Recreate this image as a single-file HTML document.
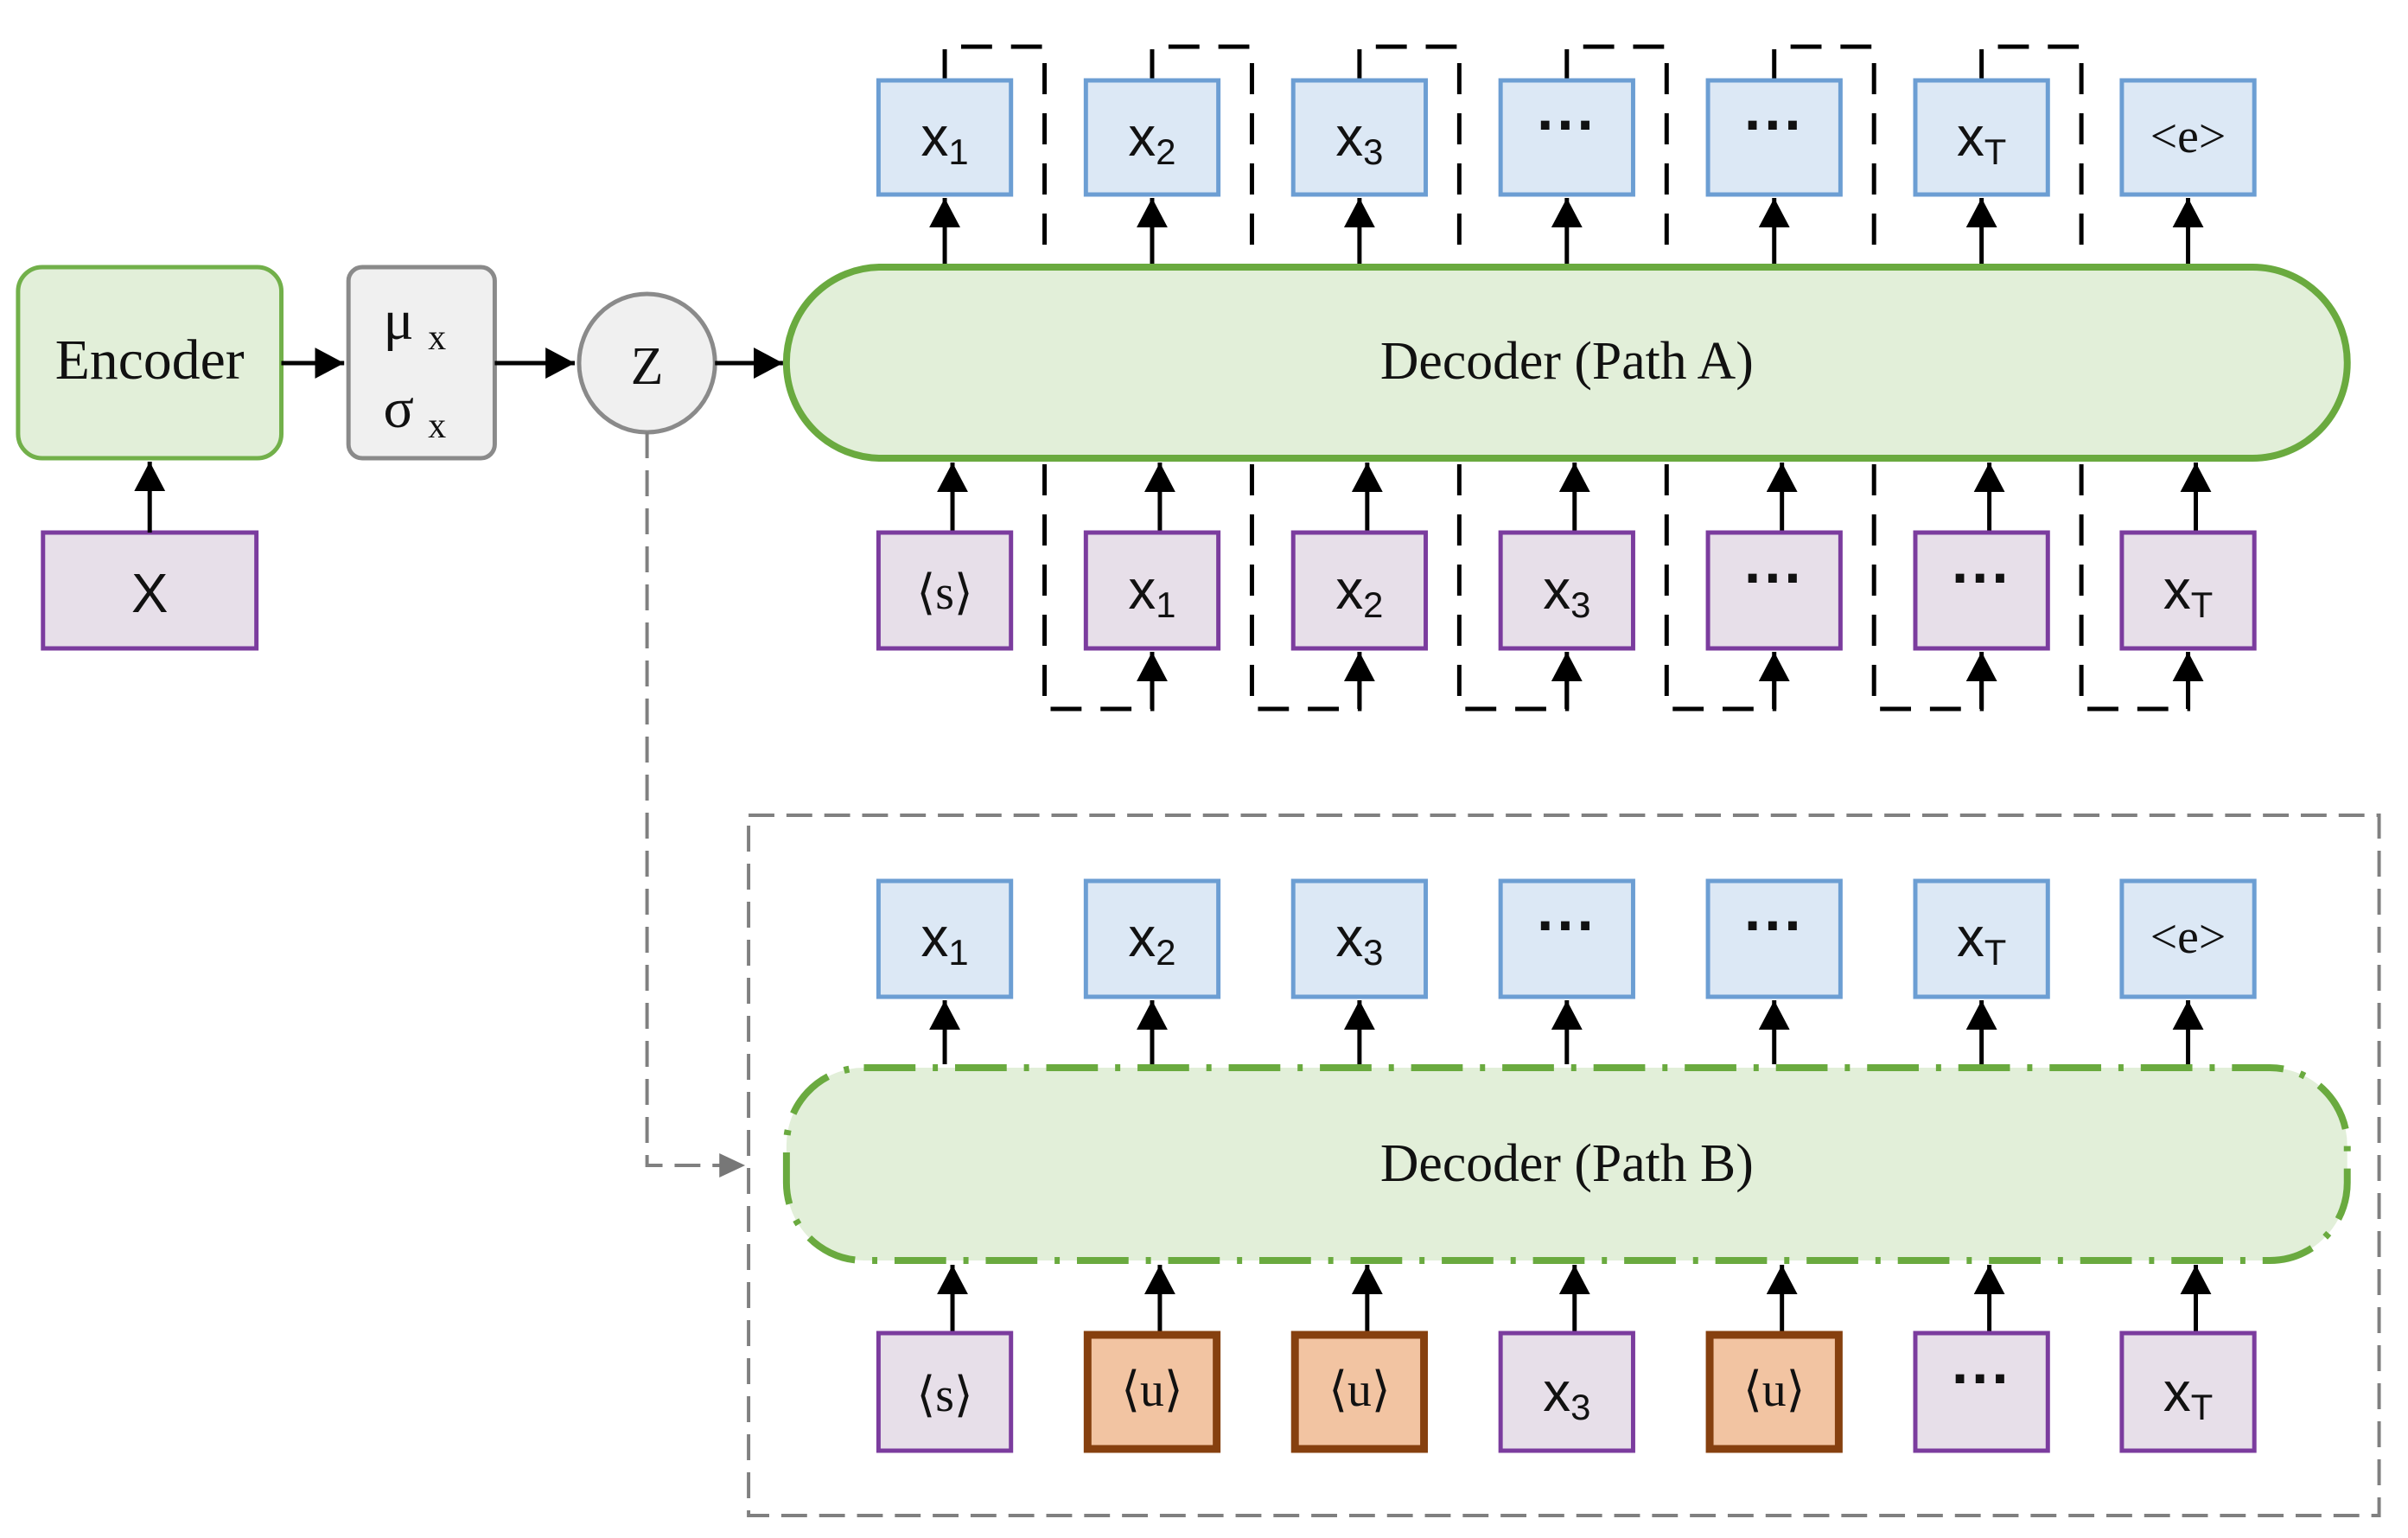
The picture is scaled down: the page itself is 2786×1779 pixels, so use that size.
<!DOCTYPE html>
<html><head><meta charset="utf-8"><style>
html,body{margin:0;padding:0;background:#fff;}
svg{display:block;}
.tok{font-family:"Liberation Sans",sans-serif;font-size:64px;fill:#111;}
.sub{font-size:42px;}
.ser{font-family:"Liberation Serif",serif;fill:#111;}
</style></head><body>
<svg width="2786" height="1779" viewBox="0 0 2786 1779" xmlns="http://www.w3.org/2000/svg">
<defs>
<marker id="ah" markerUnits="userSpaceOnUse" markerWidth="44" markerHeight="44" refX="34" refY="18" orient="auto">
<path d="M0,0 L34,18 L0,36 Z" fill="#000"/></marker>
<marker id="ahg" markerUnits="userSpaceOnUse" markerWidth="40" markerHeight="40" refX="30" refY="14" orient="auto">
<path d="M0,0 L30,14 L0,28 Z" fill="#777"/></marker>
</defs>
<g transform="scale(0.9955,1)">
<rect x="870" y="943" width="1895" height="810" fill="none" stroke="#808080" stroke-width="4" stroke-dasharray="30,14"/>

<rect x="21" y="309" width="306" height="221" rx="28" fill="#e2efd9" stroke="#72b04a" stroke-width="5"/>
<text x="174" y="438" class="ser" font-size="66" text-anchor="middle">Encoder</text>
<rect x="50" y="616" width="248" height="134" fill="#e7dfe9" stroke="#7b3c9e" stroke-width="5"/>
<text x="174" y="708" class="tok" text-anchor="middle">X</text>
<line x1="174" y1="616" x2="174" y2="534" stroke="#000" stroke-width="5" marker-end="url(#ah)"/>

<rect x="405" y="309" width="170" height="221" rx="16" fill="#f0f0f0" stroke="#8a8a8a" stroke-width="5"/>
<text x="482" y="392" class="ser" font-size="66" text-anchor="middle">μ <tspan font-size="42" dy="12">x</tspan></text>
<text x="482" y="494" class="ser" font-size="66" text-anchor="middle">σ <tspan font-size="42" dy="12">x</tspan></text>
<line x1="327" y1="420" x2="400" y2="420" stroke="#000" stroke-width="5" marker-end="url(#ah)"/>
<line x1="575" y1="420" x2="668" y2="420" stroke="#000" stroke-width="5" marker-end="url(#ah)"/>

<ellipse cx="752" cy="420" rx="79" ry="80" fill="#f0f0f0" stroke="#8a8a8a" stroke-width="5"/>
<text x="752" y="444" class="ser" font-size="62" text-anchor="middle">Z</text>
<line x1="831" y1="420" x2="910" y2="420" stroke="#000" stroke-width="5" marker-end="url(#ah)"/>
<path d="M752,500 L752,1348 L866,1348" fill="none" stroke="#808080" stroke-width="4" stroke-dasharray="30,14" marker-end="url(#ahg)"/>

<g fill="none" stroke="#000" stroke-width="5" stroke-dasharray="36,22">
<path d="M1098,93 L1098,54 L1214,54 L1214,820 L1339,820 L1339,760"/>
<path d="M1339,93 L1339,54 L1455,54 L1455,820 L1580,820 L1580,760"/>
<path d="M1580,93 L1580,54 L1696,54 L1696,820 L1821,820 L1821,760"/>
<path d="M1821,93 L1821,54 L1937,54 L1937,820 L2062,820 L2062,760"/>
<path d="M2062,93 L2062,54 L2178,54 L2178,820 L2303,820 L2303,760"/>
<path d="M2303,93 L2303,54 L2419,54 L2419,820 L2543,820 L2543,760"/>
</g>
<g stroke="#000" stroke-width="5">
<line x1="1339" y1="820" x2="1339" y2="754" marker-end="url(#ah)"/>
<line x1="1580" y1="820" x2="1580" y2="754" marker-end="url(#ah)"/>
<line x1="1821" y1="820" x2="1821" y2="754" marker-end="url(#ah)"/>
<line x1="2062" y1="820" x2="2062" y2="754" marker-end="url(#ah)"/>
<line x1="2303" y1="820" x2="2303" y2="754" marker-end="url(#ah)"/>
<line x1="2543" y1="820" x2="2543" y2="754" marker-end="url(#ah)"/>
</g>

<rect x="914" y="309" width="1814" height="221" rx="110" fill="#e2efd9" stroke="#6aaa3f" stroke-width="8"/>
<text x="1821" y="438" class="ser" font-size="62" text-anchor="middle">Decoder (Path A)</text>

<rect x="914" y="1235" width="1814" height="223" rx="90" fill="#e2efd9" stroke="#6aaa3f" stroke-width="8" stroke-dasharray="60,20,6,20"/>
<text x="1821" y="1366" class="ser" font-size="62" text-anchor="middle">Decoder (Path B)</text>

<g stroke="#000" stroke-width="5">
<line x1="1098" y1="305" x2="1098" y2="229" marker-end="url(#ah)"/>
<line x1="1339" y1="305" x2="1339" y2="229" marker-end="url(#ah)"/>
<line x1="1580" y1="305" x2="1580" y2="229" marker-end="url(#ah)"/>
<line x1="1821" y1="305" x2="1821" y2="229" marker-end="url(#ah)"/>
<line x1="2062" y1="305" x2="2062" y2="229" marker-end="url(#ah)"/>
<line x1="2303" y1="305" x2="2303" y2="229" marker-end="url(#ah)"/>
<line x1="2543" y1="305" x2="2543" y2="229" marker-end="url(#ah)"/>
<line x1="1107" y1="616" x2="1107" y2="535" marker-end="url(#ah)"/>
<line x1="1348" y1="616" x2="1348" y2="535" marker-end="url(#ah)"/>
<line x1="1589" y1="616" x2="1589" y2="535" marker-end="url(#ah)"/>
<line x1="1830" y1="616" x2="1830" y2="535" marker-end="url(#ah)"/>
<line x1="2071" y1="616" x2="2071" y2="535" marker-end="url(#ah)"/>
<line x1="2312" y1="616" x2="2312" y2="535" marker-end="url(#ah)"/>
<line x1="2552" y1="616" x2="2552" y2="535" marker-end="url(#ah)"/>
<line x1="1098" y1="1231" x2="1098" y2="1157" marker-end="url(#ah)"/>
<line x1="1339" y1="1231" x2="1339" y2="1157" marker-end="url(#ah)"/>
<line x1="1580" y1="1231" x2="1580" y2="1157" marker-end="url(#ah)"/>
<line x1="1821" y1="1231" x2="1821" y2="1157" marker-end="url(#ah)"/>
<line x1="2062" y1="1231" x2="2062" y2="1157" marker-end="url(#ah)"/>
<line x1="2303" y1="1231" x2="2303" y2="1157" marker-end="url(#ah)"/>
<line x1="2543" y1="1231" x2="2543" y2="1157" marker-end="url(#ah)"/>
<line x1="1107" y1="1542" x2="1107" y2="1463" marker-end="url(#ah)"/>
<line x1="1348" y1="1542" x2="1348" y2="1463" marker-end="url(#ah)"/>
<line x1="1589" y1="1542" x2="1589" y2="1463" marker-end="url(#ah)"/>
<line x1="1830" y1="1542" x2="1830" y2="1463" marker-end="url(#ah)"/>
<line x1="2071" y1="1542" x2="2071" y2="1463" marker-end="url(#ah)"/>
<line x1="2312" y1="1542" x2="2312" y2="1463" marker-end="url(#ah)"/>
<line x1="2552" y1="1542" x2="2552" y2="1463" marker-end="url(#ah)"/>
</g>

<g fill="#dce8f5" stroke="#6c9ed3" stroke-width="5">
<rect x="1021" y="93" width="154" height="132"/><rect x="1262" y="93" width="154" height="132"/>
<rect x="1503" y="93" width="154" height="132"/><rect x="1744" y="93" width="154" height="132"/>
<rect x="1985" y="93" width="154" height="132"/><rect x="2226" y="93" width="154" height="132"/>
<rect x="2466" y="93" width="154" height="132"/>
<rect x="1021" y="1019" width="154" height="134"/><rect x="1262" y="1019" width="154" height="134"/>
<rect x="1503" y="1019" width="154" height="134"/><rect x="1744" y="1019" width="154" height="134"/>
<rect x="1985" y="1019" width="154" height="134"/><rect x="2226" y="1019" width="154" height="134"/>
<rect x="2466" y="1019" width="154" height="134"/>
</g>
<g fill="#e7dfe9" stroke="#7b3c9e" stroke-width="5">
<rect x="1021" y="616" width="154" height="134"/><rect x="1262" y="616" width="154" height="134"/>
<rect x="1503" y="616" width="154" height="134"/><rect x="1744" y="616" width="154" height="134"/>
<rect x="1985" y="616" width="154" height="134"/><rect x="2226" y="616" width="154" height="134"/>
<rect x="2466" y="616" width="154" height="134"/>
<rect x="1021" y="1542" width="154" height="136"/><rect x="1744" y="1542" width="154" height="136"/>
<rect x="2226" y="1542" width="154" height="136"/><rect x="2466" y="1542" width="154" height="136"/>
</g>
<g fill="#f2c4a2" stroke="#86400f" stroke-width="9">
<rect x="1264" y="1544" width="150" height="132"/><rect x="1505" y="1544" width="150" height="132"/>
<rect x="1987" y="1544" width="150" height="132"/>
</g>

<g class="tok" text-anchor="middle">
<text x="1098" y="180">x<tspan class="sub" dy="10">1</tspan></text>
<text x="1339" y="180">x<tspan class="sub" dy="10">2</tspan></text>
<text x="1580" y="180">x<tspan class="sub" dy="10">3</tspan></text>
<text x="1821" y="168" font-weight="bold" font-size="70">···</text>
<text x="2062" y="168" font-weight="bold" font-size="70">···</text>
<text x="2303" y="180">x<tspan class="sub" dy="10">T</tspan></text>
<text x="2543" y="176" font-family="Liberation Serif" font-size="56">&lt;e&gt;</text>
<text x="1098" y="704" font-family="Liberation Serif" font-size="56">⟨s⟩</text>
<text x="1339" y="704">x<tspan class="sub" dy="10">1</tspan></text>
<text x="1580" y="704">x<tspan class="sub" dy="10">2</tspan></text>
<text x="1821" y="704">x<tspan class="sub" dy="10">3</tspan></text>
<text x="2062" y="692" font-weight="bold" font-size="70">···</text>
<text x="2303" y="692" font-weight="bold" font-size="70">···</text>
<text x="2543" y="704">x<tspan class="sub" dy="10">T</tspan></text>
<text x="1098" y="1106">x<tspan class="sub" dy="10">1</tspan></text>
<text x="1339" y="1106">x<tspan class="sub" dy="10">2</tspan></text>
<text x="1580" y="1106">x<tspan class="sub" dy="10">3</tspan></text>
<text x="1821" y="1094" font-weight="bold" font-size="70">···</text>
<text x="2062" y="1094" font-weight="bold" font-size="70">···</text>
<text x="2303" y="1106">x<tspan class="sub" dy="10">T</tspan></text>
<text x="2543" y="1102" font-family="Liberation Serif" font-size="56">&lt;e&gt;</text>
<text x="1098" y="1632" font-family="Liberation Serif" font-size="56">⟨s⟩</text>
<text x="1339" y="1626" font-family="Liberation Serif" font-size="56">⟨u⟩</text>
<text x="1580" y="1626" font-family="Liberation Serif" font-size="56">⟨u⟩</text>
<text x="1821" y="1632">x<tspan class="sub" dy="10">3</tspan></text>
<text x="2062" y="1626" font-family="Liberation Serif" font-size="56">⟨u⟩</text>
<text x="2303" y="1618" font-weight="bold" font-size="70">···</text>
<text x="2543" y="1632">x<tspan class="sub" dy="10">T</tspan></text>
</g>
</g>
</svg>
</body></html>
